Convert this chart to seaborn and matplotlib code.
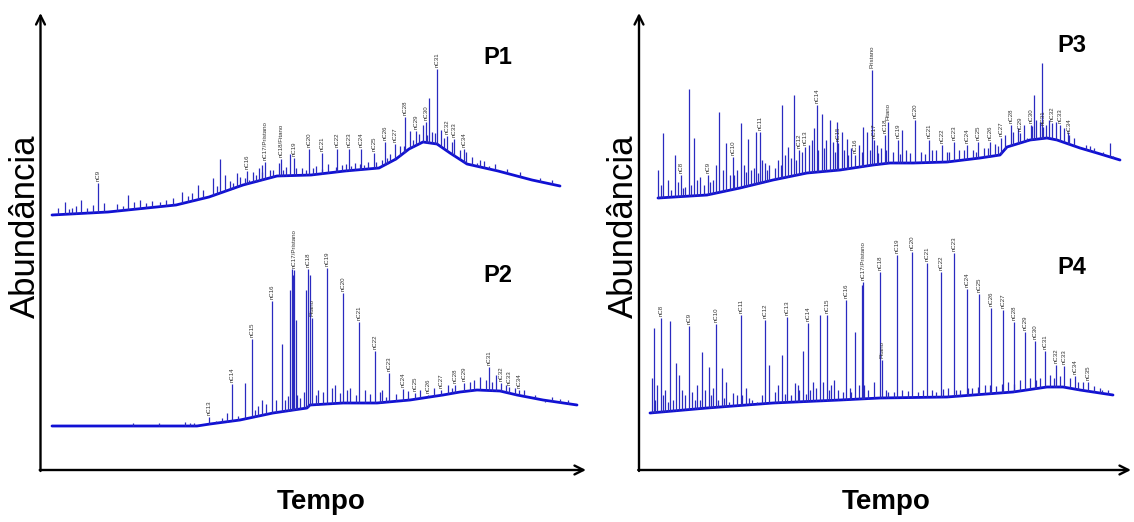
import numpy as np
import pandas as pd
import matplotlib
matplotlib.use("Agg")
import matplotlib.pyplot as plt
import seaborn as sns

# ---------------- DATA (arbitrary time / abundance units) -------------
# P1
p1_base_time = [12, 68, 136, 169, 203, 237, 271, 305, 339, 356, 369, 383, 397, 410, 427, 458, 492, 520]
p1_base_abund = [15, 18, 25, 33, 45, 54, 55, 59, 62, 71, 81, 88, 86, 77, 66, 59, 50, 44]
p1_peak_time = [25, 32, 41, 53, 58, 64, 88, 100, 120, 142, 158, 173, 180, 185, 197, 207, 219, 222, 225, 239,
                241, 250, 254, 269, 282, 297, 309, 321, 334, 345, 355, 365, 370, 376, 383, 386, 389, 397, 407, 414,
                424, 437, 449, 467]
p1_peak_abund = [28, 22, 30, 25, 47, 27, 35, 30, 28, 38, 45, 52, 71, 55, 57, 59, 62, 65, 68, 67,
                 71, 76, 72, 81, 77, 81, 81, 81, 77, 88, 86, 113, 99, 99, 105, 108, 132, 161, 94, 91,
                 81, 67, 64, 61]
p1_peak_label = ["", "", "", "", "nC9", "", "", "", "", "", "", "", "", "", "", "nC16", "", "", "nC17/Pristano", "",
                 "nC18/Fitano", "", "nC19", "nC20", "nC21", "nC22", "nC23", "nC24", "nC25", "nC26", "nC27", "nC28", "",
                 "nC29", "", "nC30", "", "nC31", "nC32", "nC33", "nC34", "", "", ""]
p1_minor_time = [18, 29, 36, 47, 77, 83, 94, 106, 112, 126, 133, 148, 152, 163, 177, 190, 193, 200, 213, 230,
                 246, 262, 276, 288, 302, 315, 328, 342, 350, 360, 379, 392, 401, 420, 432, 444, 455, 480, 500, 512,
                 205, 209, 216, 222, 233, 243, 256, 266, 273, 282, 296, 306, 311, 320, 324, 336, 347, 364, 373, 387,
                 395, 404, 412, 426, 440]
p1_minor_abund = [22, 21, 24, 22, 26, 24, 28, 27, 29, 30, 32, 34, 37, 40, 44, 49, 47, 53, 58, 60,
                  63, 62, 64, 66, 65, 67, 68, 70, 76, 84, 96, 98, 100, 80, 73, 69, 66, 58, 52, 50,
                  52, 50, 55, 58, 60, 60, 62, 60, 62, 61, 63, 66, 64, 66, 65, 68, 72, 84, 90, 95,
                  97, 92, 88, 78, 70]

# P2
p2_base_time = [12, 157, 170, 200, 233, 267, 270, 303, 337, 370, 403, 420, 437, 460, 477, 503, 537]
p2_base_abund = [14, 14, 16, 20, 27, 32, 35, 37, 37, 40, 45, 48, 50, 49, 45, 40, 35]
p2_peak_time = [169, 187, 192, 205, 212, 222, 232, 242, 245, 252, 254, 257, 268, 272, 278, 287, 295, 303, 310, 319,
                325, 335, 342, 349, 363, 375, 388, 401, 415, 424, 440, 449, 461, 469, 479, 490, 505]
p2_peak_abund = [23, 27, 56, 57, 101, 40, 139, 96, 40, 171, 170, 45, 171, 122, 50, 172, 55, 147, 52, 118,
                 50, 89, 50, 67, 51, 47, 45, 50, 55, 57, 63, 73, 57, 53, 50, 42, 38]
p2_peak_label = ["nC13", "", "nC14", "", "nC15", "", "nC16", "", "", "", "nC17/Pristano", "", "nC18", "Fitano", "",
                 "nC19", "", "nC20", "", "nC21", "", "nC22", "", "nC23", "nC24", "nC25", "nC26", "nC27", "nC28",
                 "nC29", "", "nC31", "nC32", "nC33", "nC34", "", ""]
p2_minor_time = [93, 119, 145, 150, 154, 176, 182, 198, 215, 218, 226, 236, 248, 260, 264, 276, 283, 292, 300, 307,
                 316, 330, 340, 346, 356, 368, 380, 394, 408, 412, 430, 434, 446, 452, 456, 466, 475, 484, 495, 512,
                 520, 528, 250, 253, 256, 266, 270]
p2_minor_abund = [17, 17, 18, 17, 17, 19, 22, 24, 30, 34, 36, 40, 44, 42, 48, 45, 48, 52, 47, 50,
                  45, 46, 48, 43, 46, 49, 50, 52, 55, 52, 58, 60, 60, 58, 65, 55, 52, 50, 45, 43,
                  41, 40, 150, 165, 120, 150, 165]

# P3
p3_base_time = [20, 69, 102, 135, 169, 202, 235, 252, 275, 309, 342, 362, 369, 392, 409, 419, 442, 459, 482]
p3_base_abund = [22, 25, 32, 40, 47, 50, 55, 57, 57, 58, 62, 65, 73, 80, 82, 80, 72, 67, 60]
p3_peak_time = [20, 25, 37, 43, 51, 56, 62, 70, 81, 88, 95, 103, 110, 118, 122, 127, 137, 144, 150, 156,
                161, 167, 176, 179, 184, 192, 199, 200, 204, 209, 217, 225, 229, 234, 236, 239, 247, 250, 260, 264,
                277, 291, 304, 316, 329, 340, 352, 363, 373, 382, 389, 393, 396, 404, 405, 414, 422, 431, 442, 472]
p3_peak_abund = [50, 87, 65, 45, 131, 82, 43, 45, 108, 77, 63, 97, 81, 88, 88, 57, 52, 115, 73, 125,
                 70, 73, 92, 115, 106, 100, 98, 77, 88, 81, 65, 93, 88, 150, 80, 75, 85, 98, 80, 90,
                 100, 80, 75, 78, 75, 78, 78, 82, 95, 87, 82, 95, 125, 157, 93, 97, 95, 85, 73, 77]
p3_peak_label = ["", "", "", "nC8", "", "", "", "nC9", "", "", "nC10", "", "", "", "nC11", "", "", "", "", "",
                 "nC12", "nC13", "", "nC14", "", "", "", "nC15", "", "", "nC16", "", "", "Pristano", "nC17", "",
                 "nC18", "Fitano", "nC19", "", "nC20", "nC21", "nC22", "nC23", "nC24", "nC25", "nC26", "nC27",
                 "nC28", "nC29", "", "nC30", "", "", "nC31", "nC32", "nC33", "nC34", "", ""]
p3_minor_time = [23, 30, 33, 40, 47, 59, 66, 75, 78, 85, 92, 99, 106, 113, 124, 131, 140, 147, 153, 164,
                 171, 174, 188, 195, 206, 213, 221, 232, 243, 255, 268, 283, 298, 311, 321, 335, 346, 357, 367, 375,
                 386, 398, 402, 411, 418, 426, 436, 448, 456, 465, 475,
                 45, 53, 72, 96, 108, 116, 120, 129, 143, 158, 180, 186, 197, 210, 224, 240, 248, 262, 272, 287,
                 294, 309, 326, 338, 350, 360, 380, 394, 408, 430, 452]
p3_minor_abund = [35, 40, 30, 38, 33, 40, 35, 40, 55, 50, 45, 50, 55, 50, 60, 55, 60, 65, 62, 68,
                  75, 80, 80, 78, 70, 72, 75, 70, 72, 68, 70, 68, 70, 68, 70, 70, 72, 76, 85, 88,
                  95, 100, 98, 100, 98, 92, 82, 75, 72, 68, 64,
                  32, 35, 38, 45, 48, 52, 47, 50, 55, 60, 70, 72, 68, 65, 68, 67, 70, 66, 67, 66,
                  70, 68, 70, 68, 72, 74, 92, 94, 95, 88, 74]

# P4
p4_base_time = [12, 69, 135, 202, 242, 309, 375, 409, 425, 442, 475]
p4_base_abund = [17, 22, 27, 30, 32, 33, 38, 43, 43, 40, 35]
p4_peak_time = [14, 16, 23, 32, 38, 44, 51, 59, 64, 71, 78, 84, 88, 95, 103, 108, 127, 131, 144, 149,
                157, 165, 170, 175, 182, 189, 196, 208, 217, 221, 224, 225, 242, 244, 259, 274, 289, 303, 316, 329,
                341, 353, 365, 376, 387, 397, 407, 418, 426, 437, 450, 464]
p4_peak_abund = [52, 102, 112, 109, 67, 40, 104, 45, 78, 63, 106, 62, 48, 37, 115, 42, 110, 65, 75, 113,
                 47, 79, 107, 48, 115, 115, 50, 130, 98, 45, 145, 148, 158, 70, 175, 178, 167, 158, 177, 141,
                 136, 122, 120, 108, 98, 89, 79, 65, 64, 54, 48, 40]
p4_peak_label = ["", "", "nC8", "", "", "", "nC9", "", "", "", "nC10", "", "", "", "nC11", "", "nC12", "", "", "nC13",
                 "", "", "nC14", "", "", "nC15", "", "nC16", "", "", "", "nC17/Pristano", "nC18", "Fitano", "nC19",
                 "nC20", "nC21", "nC22", "nC23", "nC24", "nC25", "nC26", "nC27", "nC28", "nC29", "nC30", "nC31",
                 "nC32", "nC33", "nC34", "nC35", ""]
p4_minor_time = [19, 27, 35, 41, 47, 54, 62, 67, 75, 80, 91, 99, 114, 119, 137, 140, 153, 161, 168, 178,
                 185, 193, 200, 213, 230, 236, 250, 264, 280, 294, 310, 322, 334, 347, 358, 370, 382, 392, 402, 412,
                 422, 432, 445, 456, 470,
                 17, 25, 30, 57, 73, 86, 104, 111, 124, 147, 160, 172, 191, 205, 212, 226, 248, 256, 270, 285,
                 298, 305, 318, 330, 340, 352, 364, 376, 398, 416, 440, 462]
p4_minor_abund = [45, 40, 30, 55, 35, 38, 30, 40, 42, 30, 28, 35, 30, 28, 38, 45, 35, 40, 36, 42,
                  48, 45, 40, 38, 40, 48, 38, 40, 38, 40, 42, 40, 42, 45, 44, 48, 50, 52, 52, 55,
                  54, 52, 48, 44, 40,
                  30, 35, 28, 30, 35, 32, 35, 32, 35, 36, 45, 40, 40, 38, 42, 45, 40, 38, 39, 40,
                  38, 41, 40, 42, 43, 45, 46, 46, 50, 52, 48, 42]

panel_names = ["P1", "P2", "P3", "P4"]
y_label = "Abundância"
x_label = "Tempo"

# ---------------- STYLE / LAYOUT -------------
sns.set_theme(style="white")
plt.rcParams["font.family"] = ["Liberation Sans", "DejaVu Sans"]

W, H = 1134, 522
BLUE = "#1010d4"
STEM = "#2a2ac0"
fig = plt.figure(figsize=(W / 100, H / 100), dpi=100)


def px_rect(x0, y0, x1, y1):
    return [x0 / W, 1 - y1 / H, (x1 - x0) / W, (y1 - y0) / H]


# overlay axes for arrows and axis titles (pixel coordinates)
ov = fig.add_axes([0, 0, 1, 1])
ov.set_xlim(0, W)
ov.set_ylim(H, 0)
ov.axis("off")
arrow_kw = dict(arrowstyle="->", lw=1.7, color="black", mutation_scale=16, shrinkA=0, shrinkB=0)
for (xa, xb) in [(40.5, 586), (639, 1131)]:
    ov.annotate("", xy=(xa, 13), xytext=(xa, 471), arrowprops=arrow_kw)
    ov.annotate("", xy=(xb, 470), xytext=(xa - 0.8, 470), arrowprops=arrow_kw)
for xc in [25, 623]:
    ov.text(xc, 226, y_label, rotation=90, fontsize=25, ha="center", va="center", color="black")
for xc in [321, 886]:
    ov.text(xc, 502, x_label, fontsize=20, fontweight="bold", ha="center", va="center", color="black")

charts = [
    (px_rect(40, 40, 585, 230), 545, p1_base_time, p1_base_abund, p1_peak_time, p1_peak_abund, p1_peak_label,
     p1_minor_time, p1_minor_abund, (0.84, 0.91)),
    (px_rect(40, 250, 585, 440), 545, p2_base_time, p2_base_abund, p2_peak_time, p2_peak_abund, p2_peak_label,
     p2_minor_time, p2_minor_abund, (0.84, 0.865)),
    (px_rect(638, 30, 1130, 220), 492, p3_base_time, p3_base_abund, p3_peak_time, p3_peak_abund, p3_peak_label,
     p3_minor_time, p3_minor_abund, (0.882, 0.92)),
    (px_rect(638, 240, 1130, 430), 492, p4_base_time, p4_base_abund, p4_peak_time, p4_peak_abund, p4_peak_label,
     p4_minor_time, p4_minor_abund, (0.882, 0.853)),
]

for name, (rect, span, bt, ba, pt, pa, pl, mt, ma, npos) in zip(panel_names, charts):
    ax = fig.add_axes(rect)
    ax.patch.set_alpha(0)
    df = pd.DataFrame({"Tempo": bt, "Abundância": ba})
    sns.lineplot(data=df, x="Tempo", y="Abundância", ax=ax, color=BLUE, lw=2.0,
                 estimator=None, sort=True)
    t = np.array(pt + mt, dtype=float)
    top = np.array(pa + ma, dtype=float)
    base = np.interp(t, bt, ba)
    ax.vlines(t, base, top, color=STEM, lw=0.9)
    for ti, ai, lab in zip(pt, pa, pl):
        if lab:
            ax.text(ti, ai + 2, lab, rotation=90, fontsize=4.4, ha="center", va="bottom", color="#333333")
    ax.text(npos[0], npos[1], name, transform=ax.transAxes, fontsize=17, fontweight="bold",
            ha="center", va="center", color="black")
    ax.set_xlim(0, span)
    ax.set_ylim(0, 190)
    ax.axis("off")

fig.savefig("out.png", dpi=100)
